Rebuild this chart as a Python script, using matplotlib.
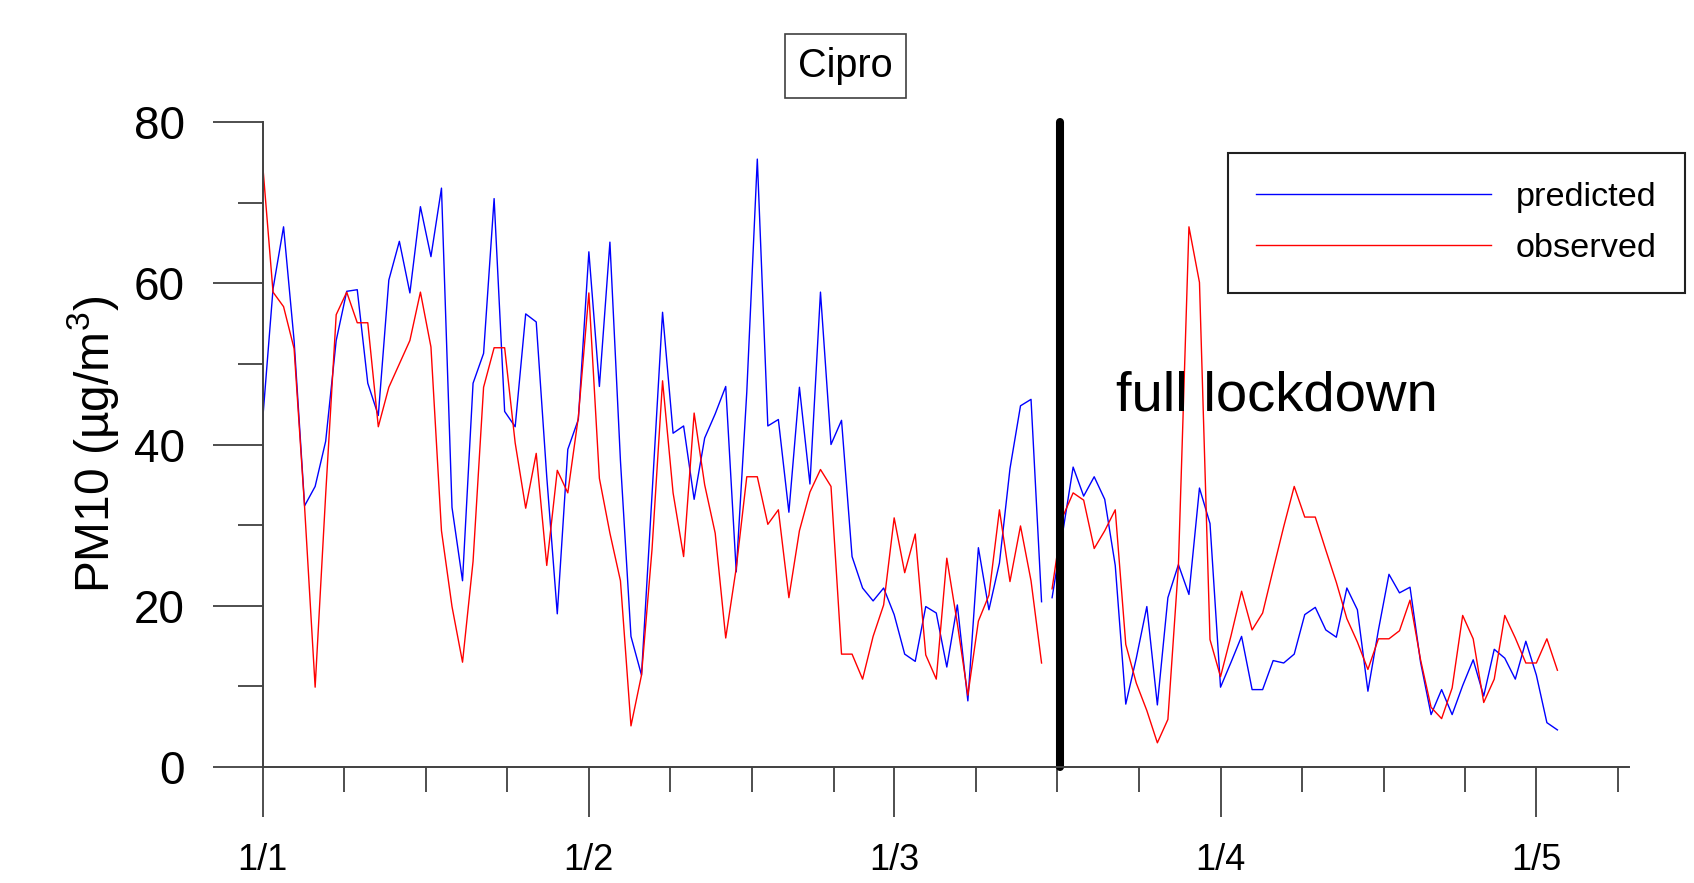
import numpy as np
import pandas as pd
import matplotlib
matplotlib.use("Agg")
import matplotlib.pyplot as plt
import matplotlib.dates as mdates

plt.rcParams['font.family'] = ['Liberation Sans', 'DejaVu Sans']

# daily PM10, 1 Jan - 15 Mar 2020 (before lockdown)
pred_pre = [42.8, 59.3, 67.0, 52.9, 32.4, 34.8, 40.4, 52.9, 59.0, 59.2,
            47.6, 43.6, 60.4, 65.2, 58.8, 69.5, 63.3, 71.8, 32.2, 23.1,
            47.6, 51.3, 70.5, 44.1, 42.2, 56.2, 55.2, 36.0, 19.0, 39.4,
            43.1, 63.9, 47.2, 65.1, 38.0, 16.2, 11.4, 33.8, 56.4, 41.4,
            42.3, 33.2, 40.8, 43.8, 47.2, 24.2, 46.5, 75.4, 42.3, 43.1,
            31.6, 47.1, 35.1, 58.9, 40.0, 43.0, 26.1, 22.2, 20.6, 22.2,
            18.9, 14.0, 13.1, 19.9, 19.1, 12.4, 20.1, 8.2, 27.2, 19.5,
            25.3, 37.0, 44.8, 45.6, 20.5]
obs_pre = [75.0, 58.9, 57.1, 51.9, 32.2, 9.9, 33.8, 56.1, 58.9, 55.1,
           55.1, 42.2, 47.1, 50.0, 52.9, 58.9, 52.1, 29.3, 19.9, 13.0,
           25.5, 47.1, 52.0, 52.0, 40.2, 32.1, 38.9, 25.0, 36.8, 34.0,
           43.4, 58.8, 35.8, 29.0, 23.1, 5.1, 11.4, 27.0, 47.9, 34.0,
           26.1, 43.9, 35.0, 29.0, 16.0, 24.7, 36.0, 36.0, 30.1, 31.9,
           21.0, 29.3, 34.1, 36.9, 34.8, 14.0, 14.0, 10.9, 16.2, 20.1,
           30.9, 24.1, 28.9, 13.9, 10.9, 25.9, 17.8, 8.9, 18.1, 21.3,
           31.9, 23.0, 29.9, 23.1, 12.9]

# daily PM10, 16 Mar - 3 May 2020 (lockdown)
pred_post = [21.0, 29.0, 37.2, 33.6, 36.0, 33.2, 25.0, 7.8, 13.5, 19.9,
             7.7, 21.0, 25.1, 21.4, 34.6, 30.2, 9.9, 13.0, 16.2, 9.6,
             9.6, 13.2, 12.9, 14.0, 18.9, 19.8, 17.0, 16.1, 22.2, 19.5,
             9.4, 17.0, 23.9, 21.6, 22.3, 13.0, 6.5, 9.6, 6.5, 10.1,
             13.3, 8.8, 14.6, 13.5, 10.9, 15.6, 11.4, 5.5, 4.6]
obs_post = [22.1, 31.0, 34.0, 33.1, 27.1, 29.3, 31.9, 15.2, 10.4, 7.0,
            3.0, 5.9, 25.0, 67.0, 60.1, 15.8, 11.2, 16.3, 21.8, 17.0,
            19.1, 24.5, 29.8, 34.8, 31.0, 31.0, 26.9, 22.9, 18.4, 15.5,
            12.1, 15.9, 15.9, 16.9, 20.7, 13.3, 7.4, 6.0, 9.8, 18.8,
            15.9, 8.0, 10.9, 18.8, 16.0, 12.9, 12.9, 15.9, 12.0]

start_pre = "2020-01-01"
start_post = "2020-03-16"
lockdown = pd.Timestamp("2020-03-16 17:00")
month_starts = pd.date_range("2020-01-01", "2020-05-01", freq="MS")


def main():
    fig = plt.figure(figsize=(16.94, 8.83), dpi=100)
    ax = fig.add_axes([0.15496, 0.13137, 0.80667, 0.73046])

    d_pre = pd.date_range(start_pre, periods=len(pred_pre))
    d_post = pd.date_range(start_post, periods=len(pred_post))

    ax.plot(d_pre, pred_pre, color="#0000ff", lw=1.0, label="predicted")
    ax.plot(d_pre, obs_pre, color="#ff0000", lw=1.0, label="observed")
    ax.plot(d_post, pred_post, color="#0000ff", lw=1.0)
    ax.plot(d_post, obs_post, color="#ff0000", lw=1.0)

    ax.axvline(lockdown, color="black", lw=5.8, solid_capstyle="round", clip_on=False)
    ax.text(0.6245, 0.553, "full lockdown", transform=ax.transAxes,
            fontsize=40.5, va="baseline", ha="left")

    x0 = mdates.date2num(month_starts[0])
    ax.set_xlim(x0, x0 + 129.8)
    ax.set_ylim(0, 80)

    # axes + ticks
    ax.set_xticks(month_starts)
    ax.set_xticklabels(["1/%d" % m.month for m in month_starts])
    minor = []
    for m in month_starts:
        for k in (1, 2, 3):
            v = mdates.date2num(m) + 7.75 * k
            if v < x0 + 129.8:
                minor.append(v)
    ax.set_xticks(minor, minor=True)
    ax.set_yticks([0, 20, 40, 60, 80])
    ax.set_yticks([10, 30, 50, 70], minor=True)

    for s in ["top", "right"]:
        ax.spines[s].set_visible(False)
    for s in ["left", "bottom"]:
        ax.spines[s].set_color("#404040")
        ax.spines[s].set_linewidth(1.4)

    ax.tick_params(axis="both", which="both", direction="out", color="#404040", width=1.3)
    ax.tick_params(axis="both", which="major", length=36)
    ax.tick_params(axis="both", which="minor", length=18)
    ax.tick_params(axis="x", which="major", labelsize=26, pad=18.5)
    ax.tick_params(axis="y", which="major", labelsize=33, pad=20)

    ax.set_ylabel("PM10 (µg/m$\\mathregular{^3}$)", fontsize=34.5, labelpad=9)

    leg = ax.legend(loc="upper left", bbox_to_anchor=(0.7249, 0.8267),
                    bbox_transform=fig.transFigure, borderaxespad=0,
                    fontsize=24.7, handlelength=6.85, handletextpad=0.7,
                    borderpad=0.83, labelspacing=0.6, fancybox=False,
                    framealpha=1, edgecolor="#202020")
    leg.get_frame().set_linewidth(1.5)

    fig.text(0.499, 0.9253, "Cipro", fontsize=28.5, ha="center", va="center",
             bbox=dict(boxstyle="square,pad=0.33", fc="white", ec="#404040", lw=1.2))

    fig.savefig("out.png", dpi=100)


if __name__ == "__main__":
    main()
